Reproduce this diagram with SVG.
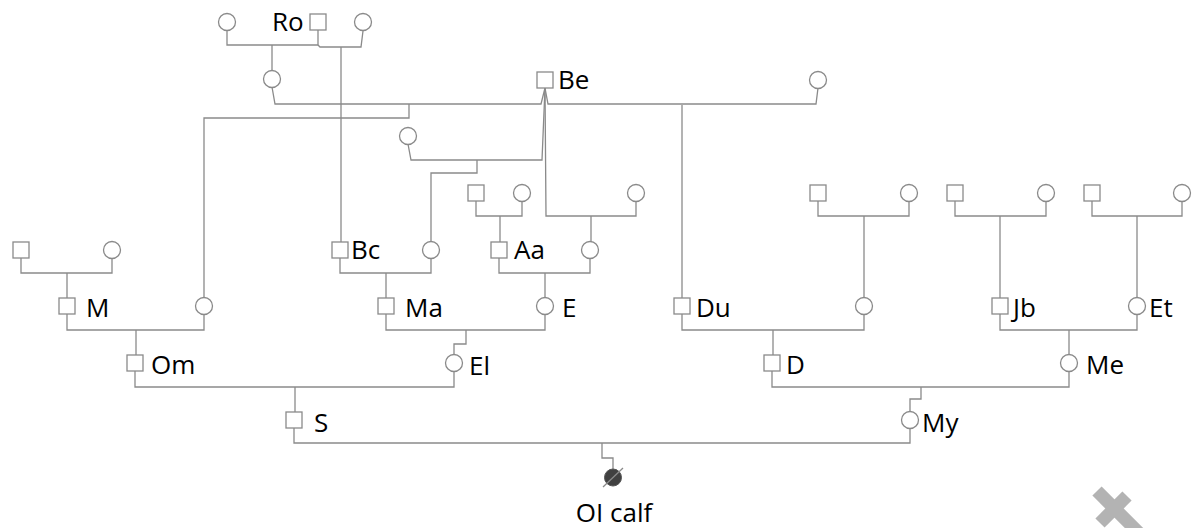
<svg xmlns="http://www.w3.org/2000/svg" width="1198" height="528" viewBox="0 0 1198 528">
<style>
.sq{fill:#fff;stroke:#8a8a8a;stroke-width:1.3}
.ci{fill:#fff;stroke:#8a8a8a;stroke-width:1.3}
.ln{fill:none;stroke:#8a8a8a;stroke-width:1.3}
.lb{font-family:"Open Sans","Liberation Sans",sans-serif;font-size:26px;fill:#000}
</style>
<rect width="1198" height="528" fill="#fff"/>
<g id="connectors" class="ln">
<path d="M227,30 V45 H318 V30"/>
<path d="M272,45 V71"/>
<path d="M318,45 L320,47 H361 L363,31"/>
<path d="M341,47 V242"/>
<path d="M272,87 L275,104 H541 L545,88 L548,104 H816 L818,88"/>
<path d="M409,104 V118 H204 V298"/>
<path d="M682,105 V298"/>
<path d="M408,144 L411,160 H542 L545,88"/>
<path d="M477,160 V173 H431 V242"/>
<path d="M545,88 L546,216 H636 V201"/>
<path d="M591,216 V242"/>
<path d="M476,201 V216 H522 V201"/>
<path d="M500,216 V242"/>
<path d="M340,258 V273 H431 V258"/>
<path d="M386,273 V298"/>
<path d="M499,258 V273 H590 V258"/>
<path d="M545,273 V298"/>
<path d="M386,314 V330 H545 V314"/>
<path d="M466,330 V344 H454 V355"/>
<path d="M21,258 V273 H112 V258"/>
<path d="M67,273 V298"/>
<path d="M67,314 V330 H204 V314"/>
<path d="M136,330 V355"/>
<path d="M135,371 V387 H454 V371"/>
<path d="M295,387 V412"/>
<path d="M818,201 V216 H909 V201"/>
<path d="M864,216 V298"/>
<path d="M682,314 V330 H864 V314"/>
<path d="M773,330 V355"/>
<path d="M955,201 V216 H1046 V201"/>
<path d="M1000,216 V298"/>
<path d="M1092,201 V216 H1182 V201"/>
<path d="M1137,216 V298"/>
<path d="M1000,314 V330 H1137 V314"/>
<path d="M1069,330 V355"/>
<path d="M772,371 V387 H1069 V371"/>
<path d="M921,387 V399 H910 V412"/>
<path d="M294,428 V443 H910 V428"/>
<path d="M602,443 V458 H613 V469"/>
</g>
<g id="n-gm1"><circle class="ci" cx="227" cy="22" r="8.5"/></g>
<g id="n-Ro"><rect class="sq" x="310" y="14" width="16" height="16"/><text class="lb" x="272" y="31">Ro</text></g>
<g id="n-gm2"><circle class="ci" cx="363" cy="22" r="8.5"/></g>
<g id="n-f1"><circle class="ci" cx="272" cy="79" r="8.5"/></g>
<g id="n-Be"><rect class="sq" x="537" y="72" width="16" height="16"/><text class="lb" x="558" y="89">Be</text></g>
<g id="n-f2"><circle class="ci" cx="818" cy="80" r="8.5"/></g>
<g id="n-f3"><circle class="ci" cx="408" cy="136" r="8.5"/></g>
<g id="n-Aa-f"><rect class="sq" x="468" y="185" width="16" height="16"/></g>
<g id="n-Aa-m"><circle class="ci" cx="522" cy="193" r="8.5"/></g>
<g id="n-f4"><circle class="ci" cx="636" cy="193" r="8.5"/></g>
<g id="n-M-f"><rect class="sq" x="13" y="242" width="16" height="16"/></g>
<g id="n-M-m"><circle class="ci" cx="112" cy="250" r="8.5"/></g>
<g id="n-Bc"><rect class="sq" x="332" y="242" width="16" height="16"/><text class="lb" x="351" y="259">Bc</text></g>
<g id="n-f5"><circle class="ci" cx="431" cy="250" r="8.5"/></g>
<g id="n-Aa"><rect class="sq" x="491" y="242" width="16" height="16"/><text class="lb" x="514" y="259">Aa</text></g>
<g id="n-f6"><circle class="ci" cx="590" cy="250" r="8.5"/></g>
<g id="n-Du-f"><rect class="sq" x="810" y="185" width="16" height="16"/></g>
<g id="n-Du-m"><circle class="ci" cx="909" cy="193" r="8.5"/></g>
<g id="n-Jb-f"><rect class="sq" x="947" y="185" width="16" height="16"/></g>
<g id="n-Jb-m"><circle class="ci" cx="1046" cy="193" r="8.5"/></g>
<g id="n-Et-f"><rect class="sq" x="1084" y="185" width="16" height="16"/></g>
<g id="n-Et-m"><circle class="ci" cx="1182" cy="193" r="8.5"/></g>
<g id="n-M"><rect class="sq" x="59" y="298" width="16" height="16"/><text class="lb" x="86" y="317">M</text></g>
<g id="n-f7"><circle class="ci" cx="204" cy="306" r="8.5"/></g>
<g id="n-Ma"><rect class="sq" x="378" y="298" width="16" height="16"/><text class="lb" x="405" y="317">Ma</text></g>
<g id="n-E"><circle class="ci" cx="545" cy="306" r="8.5"/><text class="lb" x="562" y="317">E</text></g>
<g id="n-Du"><rect class="sq" x="674" y="298" width="16" height="16"/><text class="lb" x="696" y="317">Du</text></g>
<g id="n-f8"><circle class="ci" cx="864" cy="306" r="8.5"/></g>
<g id="n-Jb"><rect class="sq" x="992" y="298" width="16" height="16"/><text class="lb" x="1013" y="317">Jb</text></g>
<g id="n-Et"><circle class="ci" cx="1137" cy="306" r="8.5"/><text class="lb" x="1149" y="317">Et</text></g>
<g id="n-Om"><rect class="sq" x="127" y="355" width="16" height="16"/><text class="lb" x="151" y="374">Om</text></g>
<g id="n-El"><circle class="ci" cx="454" cy="363" r="8.5"/><text class="lb" x="469" y="375">El</text></g>
<g id="n-D"><rect class="sq" x="764" y="355" width="16" height="16"/><text class="lb" x="786" y="374">D</text></g>
<g id="n-Me"><circle class="ci" cx="1069" cy="363" r="8.5"/><text class="lb" x="1086" y="374">Me</text></g>
<g id="n-S"><rect class="sq" x="286" y="412" width="16" height="16"/><text class="lb" x="314" y="432">S</text></g>
<g id="n-My"><circle class="ci" cx="910" cy="420" r="8.5"/><text class="lb" x="922" y="432">My</text></g>
<g id="n-calf"><circle cx="613" cy="477.5" r="8.5" fill="#404040" stroke="#555" stroke-width="1"/><line x1="603" y1="487" x2="623" y2="468" stroke="#8a8a8a" stroke-width="1.3"/><text class="lb" x="614" y="522" text-anchor="middle">OI calf</text></g>
<g id="mark" stroke="#b3b3b3" stroke-width="13" stroke-linecap="butt"><line x1="1097" y1="491" x2="1150" y2="544"/><line x1="1127" y1="496" x2="1100" y2="523"/></g>
</svg>
